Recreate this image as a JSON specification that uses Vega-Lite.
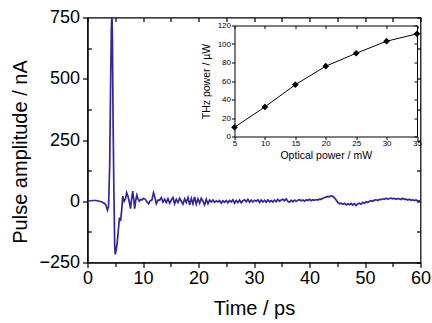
{
  "$schema": "https://vega.github.io/schema/vega-lite/v6.json",
  "width": 333,
  "height": 245,
  "autosize": "none",
  "padding": {"left": 87.5, "top": 17.5, "right": 11.5, "bottom": 60.5},
  "background": "white",
  "config": {
    "view": {"stroke": "black", "strokeWidth": 1.2},
    "font": "Liberation Sans",
    "axis": {"grid": false, "labelFlush": false, "labelOverlap": false, "domainColor": "black", "tickColor": "black", "labelColor": "black", "titleColor": "black", "titleFontWeight": "normal", "labelFont": "Liberation Sans", "titleFont": "Liberation Sans", "domainWidth": 1.2, "tickWidth": 1.2}
  },
  "datasets": {
    "pulse": [
      {"t": 0, "a": 0}, {"t": 0.5, "a": 2}, {"t": 1, "a": 3}, {"t": 1.5, "a": 3}, {"t": 2, "a": 1}, {"t": 2.5, "a": -2}, {"t": 3, "a": -8}, {"t": 3.3, "a": -15}, {"t": 3.6, "a": -36}, {"t": 3.8, "a": -20},
      {"t": 4.0, "a": 150}, {"t": 4.15, "a": 450}, {"t": 4.3, "a": 700}, {"t": 4.4, "a": 770}, {"t": 4.5, "a": 650}, {"t": 4.6, "a": 350}, {"t": 4.75, "a": 50}, {"t": 4.9, "a": -180}, {"t": 5.0, "a": -217}, {"t": 5.15, "a": -200},
      {"t": 5.35, "a": -170}, {"t": 5.55, "a": -120}, {"t": 5.75, "a": -67}, {"t": 5.95, "a": -80}, {"t": 6.15, "a": -40}, {"t": 6.35, "a": 21}, {"t": 6.6, "a": 0}, {"t": 6.85, "a": 10}, {"t": 7.05, "a": 35}, {"t": 7.3, "a": 20},
      {"t": 7.5, "a": 0}, {"t": 7.75, "a": -30}, {"t": 7.95, "a": 10}, {"t": 8.15, "a": 41}, {"t": 8.35, "a": 5}, {"t": 8.5, "a": -30}, {"t": 8.7, "a": 5}, {"t": 8.9, "a": 25}, {"t": 9.1, "a": 10}, {"t": 9.35, "a": 0},
      {"t": 9.6, "a": 8}, {"t": 9.8, "a": 5}, {"t": 10.1, "a": 12}, {"t": 10.4, "a": 8}, {"t": 10.7, "a": -2}, {"t": 11.0, "a": -10}, {"t": 11.3, "a": 2}, {"t": 11.6, "a": 5}, {"t": 11.9, "a": 35}, {"t": 12.1, "a": 20},
      {"t": 12.4, "a": -10}, {"t": 12.7, "a": 5}, {"t": 13.0, "a": 5}, {"t": 13.3, "a": 15}, {"t": 13.6, "a": -3}, {"t": 13.9, "a": 8}, {"t": 14.2, "a": -5}, {"t": 14.5, "a": 10}, {"t": 14.8, "a": -8}, {"t": 15.1, "a": 5},
      {"t": 15.4, "a": 15}, {"t": 15.7, "a": -10}, {"t": 16.0, "a": 8}, {"t": 16.3, "a": -5}, {"t": 16.6, "a": 12}, {"t": 16.9, "a": 0}, {"t": 17.2, "a": -12}, {"t": 17.5, "a": 10}, {"t": 17.8, "a": -5}, {"t": 18.1, "a": 15},
      {"t": 18.4, "a": -15}, {"t": 18.7, "a": 12}, {"t": 19.0, "a": -10}, {"t": 19.3, "a": 18}, {"t": 19.6, "a": -12}, {"t": 19.9, "a": 10}, {"t": 20.2, "a": -8}, {"t": 20.5, "a": 12}, {"t": 20.8, "a": 0}, {"t": 21.1, "a": -15},
      {"t": 21.4, "a": 8}, {"t": 21.7, "a": -10}, {"t": 22.0, "a": 5}, {"t": 22.3, "a": -3}, {"t": 22.6, "a": 5}, {"t": 22.9, "a": -5}, {"t": 23.2, "a": 2}, {"t": 23.5, "a": -3}, {"t": 23.8, "a": 3}, {"t": 24.1, "a": -8},
      {"t": 24.4, "a": 2}, {"t": 24.7, "a": -4}, {"t": 25.0, "a": 3}, {"t": 25.3, "a": -6}, {"t": 25.6, "a": 4}, {"t": 25.9, "a": -3}, {"t": 26.2, "a": 6}, {"t": 26.5, "a": -8}, {"t": 26.8, "a": 3}, {"t": 27.1, "a": -5},
      {"t": 27.4, "a": 5}, {"t": 27.7, "a": -6}, {"t": 28.0, "a": 2}, {"t": 28.3, "a": 6}, {"t": 28.6, "a": -2}, {"t": 28.9, "a": 8}, {"t": 29.2, "a": -4}, {"t": 29.5, "a": 5}, {"t": 29.8, "a": -3}, {"t": 30.1, "a": 4},
      {"t": 30.4, "a": 0}, {"t": 30.7, "a": 6}, {"t": 31.0, "a": -5}, {"t": 31.3, "a": 5}, {"t": 31.6, "a": -3}, {"t": 31.9, "a": 4}, {"t": 32.2, "a": -4}, {"t": 32.5, "a": 6}, {"t": 32.8, "a": -2}, {"t": 33.1, "a": 3},
      {"t": 33.4, "a": -3}, {"t": 33.7, "a": 5}, {"t": 34.0, "a": -2}, {"t": 34.3, "a": 8}, {"t": 34.6, "a": 0}, {"t": 34.9, "a": 5}, {"t": 35.2, "a": 8}, {"t": 35.5, "a": 2}, {"t": 35.8, "a": 10}, {"t": 36.1, "a": 0},
      {"t": 36.4, "a": -4}, {"t": 36.7, "a": 4}, {"t": 37.0, "a": -2}, {"t": 37.3, "a": 5}, {"t": 37.6, "a": 0}, {"t": 37.9, "a": 4}, {"t": 38.2, "a": 6}, {"t": 38.5, "a": 2}, {"t": 38.8, "a": 5}, {"t": 39.1, "a": 0},
      {"t": 39.4, "a": 6}, {"t": 39.7, "a": 3}, {"t": 40.0, "a": 8}, {"t": 40.3, "a": 2}, {"t": 40.6, "a": 6}, {"t": 40.9, "a": 4}, {"t": 41.2, "a": 7}, {"t": 41.5, "a": 5}, {"t": 41.8, "a": 9}, {"t": 42.1, "a": 8},
      {"t": 42.4, "a": 12}, {"t": 42.7, "a": 15}, {"t": 43.0, "a": 17}, {"t": 43.3, "a": 20}, {"t": 43.6, "a": 18}, {"t": 43.9, "a": 22}, {"t": 44.2, "a": 20}, {"t": 44.5, "a": 14}, {"t": 44.8, "a": 5}, {"t": 45.1, "a": -5},
      {"t": 45.4, "a": -10}, {"t": 45.7, "a": -8}, {"t": 46.0, "a": -12}, {"t": 46.3, "a": -8}, {"t": 46.6, "a": -15}, {"t": 46.9, "a": -10}, {"t": 47.2, "a": -14}, {"t": 47.5, "a": -9}, {"t": 47.8, "a": -16}, {"t": 48.1, "a": -10},
      {"t": 48.4, "a": -17}, {"t": 48.7, "a": -10}, {"t": 49.0, "a": -8}, {"t": 49.3, "a": -12}, {"t": 49.6, "a": -4}, {"t": 49.9, "a": -8}, {"t": 50.2, "a": -2}, {"t": 50.5, "a": -5}, {"t": 50.8, "a": 0}, {"t": 51.1, "a": 2},
      {"t": 51.4, "a": 0}, {"t": 51.7, "a": 5}, {"t": 52.0, "a": 6}, {"t": 52.3, "a": 3}, {"t": 52.6, "a": 8}, {"t": 52.9, "a": 7}, {"t": 53.2, "a": 10}, {"t": 53.5, "a": 8}, {"t": 53.8, "a": 12}, {"t": 54.1, "a": 9},
      {"t": 54.4, "a": 11}, {"t": 54.7, "a": 13}, {"t": 55.0, "a": 10}, {"t": 55.3, "a": 12}, {"t": 55.6, "a": 8}, {"t": 55.9, "a": 11}, {"t": 56.2, "a": 10}, {"t": 56.5, "a": 7}, {"t": 56.8, "a": 12}, {"t": 57.1, "a": 8},
      {"t": 57.4, "a": 9}, {"t": 57.7, "a": 5}, {"t": 58.0, "a": 8}, {"t": 58.3, "a": 4}, {"t": 58.6, "a": 6}, {"t": 58.9, "a": 3}, {"t": 59.2, "a": 5}, {"t": 59.5, "a": 1}, {"t": 60, "a": 3}
    ],
    "inset": [
      {"p": 5, "w": 10}, {"p": 10, "w": 32}, {"p": 15, "w": 56}, {"p": 20, "w": 76}, {"p": 25, "w": 90}, {"p": 30, "w": 103}, {"p": 35, "w": 111}
    ]
  },
  "layer": [
    {
      "data": {"name": "pulse"},
      "resolve": {"axis": {"x": "independent", "y": "independent"}},
      "layer": [
        {
          "mark": {"type": "line", "color": "#33269a", "strokeWidth": 1.7, "clip": true},
          "encoding": {
            "x": {"field": "t", "type": "quantitative", "scale": {"domain": [0, 60], "nice": false},
              "axis": {"values": [0, 10, 20, 30, 40, 50, 60], "title": "Time / ps", "labelFontSize": 18, "titleFontSize": 20, "tickSize": 5, "labelPadding": 2, "titlePadding": 11}},
            "y": {"field": "a", "type": "quantitative", "scale": {"domain": [-250, 750], "nice": false},
              "axis": {"values": [-250, 0, 250, 500, 750], "title": "Pulse amplitude / nA", "labelFontSize": 18, "titleFontSize": 20, "tickSize": 5, "labelPadding": 3, "titlePadding": 8, "titleY": 134}}
          }
        },
        {
          "mark": {"type": "line", "opacity": 0},
          "encoding": {
            "x": {"field": "t", "type": "quantitative",
              "axis": {"orient": "bottom", "values": [5, 15, 25, 35, 45, 55], "labels": false, "domain": false, "title": null, "tickSize": 4}},
            "y": {"field": "a", "type": "quantitative",
              "axis": {"orient": "left", "values": [-125, 125, 375, 625], "labels": false, "domain": false, "title": null, "tickSize": -4}}
          }
        },
        {
          "mark": {"type": "line", "opacity": 0},
          "encoding": {
            "x": {"field": "t", "type": "quantitative",
              "axis": {"orient": "top", "values": [0, 5, 10, 15, 20, 25, 30, 35, 40, 45, 50, 55, 60], "labels": false, "domain": false, "title": null, "tickSize": -4}},
            "y": {"field": "a", "type": "quantitative",
              "axis": {"orient": "right", "values": [-250, -125, 0, 125, 250, 375, 500, 625, 750], "labels": false, "domain": false, "title": null, "tickSize": -4}}
          }
        }
      ]
    },
    {
      "data": {"name": "inset"},
      "resolve": {"axis": {"x": "independent", "y": "independent"}},
      "layer": [
        {
          "mark": {"type": "line", "color": "black", "strokeWidth": 1},
          "encoding": {
            "x": {"field": "p", "type": "quantitative", "scale": {"domain": [5, 35], "nice": false, "range": [147, 329.5]},
              "axis": {"orient": "bottom", "offset": -126, "values": [5, 10, 15, 20, 25, 30, 35], "title": "Optical power / mW", "labelFontSize": 8, "titleFontSize": 10.5, "tickSize": 3, "labelPadding": 0, "titlePadding": 3, "domainWidth": 1, "tickWidth": 1}},
            "y": {"field": "w", "type": "quantitative", "scale": {"domain": [0, 120], "nice": false, "range": [119, 8]},
              "axis": {"orient": "left", "offset": -147, "values": [0, 20, 40, 60, 80, 100, 120], "title": "THz power / µW", "labelFontSize": 8, "titleFontSize": 10.5, "tickSize": 3, "labelPadding": 1, "titlePadding": 6, "domainWidth": 1, "tickWidth": 1}}
          }
        },
        {
          "mark": {"type": "point", "shape": "diamond", "filled": true, "color": "black", "size": 45, "opacity": 1},
          "encoding": {
            "x": {"field": "p", "type": "quantitative",
              "axis": {"orient": "top", "offset": -8, "values": [5, 10, 15, 20, 25, 30, 35], "labels": false, "title": null, "tickSize": -3, "domainWidth": 1, "tickWidth": 1}},
            "y": {"field": "w", "type": "quantitative",
              "axis": {"orient": "right", "offset": -3.5, "values": [0, 20, 40, 60, 80, 100, 120], "labels": false, "title": null, "tickSize": -3, "domainWidth": 1, "tickWidth": 1}}
          }
        }
      ]
    }
  ],
  "resolve": {"scale": {"x": "independent", "y": "independent"}}
}
